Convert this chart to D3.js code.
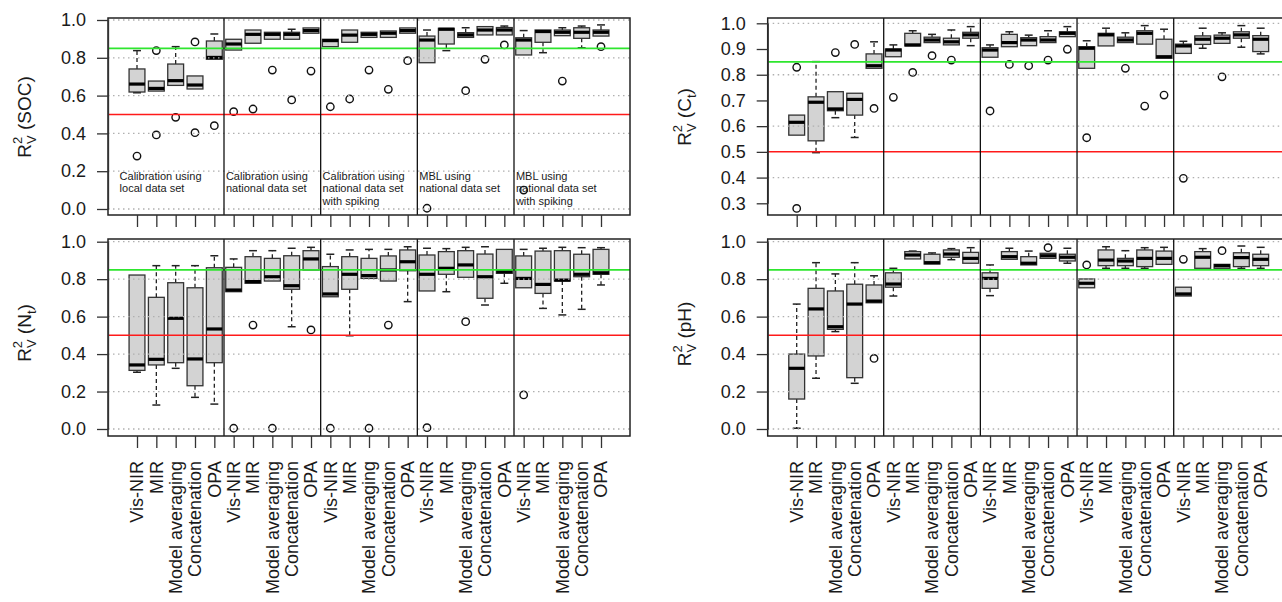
<!DOCTYPE html>
<html>
<head>
<meta charset="utf-8">
<script src="https://cdn.jsdelivr.net/npm/d3@7/dist/d3.min.js"></script>
<style>
body{margin:0;background:#fff;}
svg text{font-family:"Liberation Sans",Arial,sans-serif;fill:#1a1a1a;}
</style>
</head>
<body>
<script>
const width=1282;
const height=602;

// categories
const methods=['Vis-NIR','MIR','Model averaging','Concatenation','OPA'];
const groupNotes=[
  ['Calibration using','local data set'],
  ['Calibration using','national data set'],
  ['Calibration using','national data set','with spiking'],
  ['MBL using','national data set'],
  ['MBL using','national data set','with spiking']
];
const leftTicks=[0,0.2,0.4,0.6,0.8,1.0];
const ctTicks=[0.3,0.4,0.5,0.6,0.7,0.8,0.9,1.0];
const refLines=[0.5,0.85];

// box stats per box: [lower whisker, Q1, median, Q3, upper whisker]
const socBoxes=[
  [0.615,0.619,0.661,0.741,0.838],[0.624,0.624,0.638,0.677,0.677],[0.654,0.654,0.679,0.767,0.859],[0.635,0.635,0.656,0.704,0.704],[0.792,0.792,0.802,0.889,0.926],
  [0.841,0.841,0.873,0.898,0.898],[0.877,0.877,0.924,0.947,0.947],[0.898,0.898,0.924,0.935,0.935],[0.898,0.898,0.924,0.935,0.951],[0.930,0.930,0.944,0.958,0.958],
  [0.859,0.859,0.891,0.898,0.898],[0.882,0.882,0.920,0.947,0.947],[0.908,0.908,0.924,0.935,0.935],[0.908,0.908,0.930,0.942,0.942],[0.930,0.930,0.944,0.958,0.958],
  [0.774,0.774,0.894,0.915,0.947],[0.838,0.873,0.951,0.956,0.956],[0.908,0.908,0.921,0.933,0.959],[0.921,0.921,0.947,0.965,0.965],[0.921,0.921,0.947,0.960,0.968],
  [0.815,0.815,0.894,0.906,0.944],[0.827,0.882,0.939,0.947,0.947],[0.917,0.917,0.935,0.947,0.959],[0.853,0.903,0.935,0.959,0.968],[0.915,0.915,0.935,0.947,0.974]
];
const socOutliers=[
  [0.28],[0.838,0.392],[0.485],[0.884,0.404],[0.441],
  [0.515],[0.529],[0.735],[0.577],[0.73],
  [0.541],[0.582],[0.735],[0.633],[0.785],
  [0.004],[],[0.626],[0.792],[0.868],
  [0.1],[],[0.677],[],[0.859]
];

const ctBoxes=[
  [0.565,0.565,0.615,0.643,0.643],[0.497,0.543,0.693,0.714,0.851],[0.633,0.660,0.667,0.734,0.734],[0.556,0.643,0.704,0.728,0.728],[0.825,0.825,0.835,0.881,0.928],
  [0.870,0.870,0.896,0.900,0.916],[0.912,0.912,0.916,0.961,0.971],[0.925,0.925,0.935,0.946,0.957],[0.916,0.916,0.928,0.942,0.974],[0.913,0.942,0.955,0.965,0.987],
  [0.868,0.868,0.896,0.905,0.916],[0.909,0.909,0.925,0.957,0.967],[0.913,0.913,0.935,0.944,0.954],[0.925,0.925,0.935,0.948,0.971],[0.948,0.948,0.961,0.967,0.987],
  [0.825,0.825,0.903,0.909,0.932],[0.912,0.912,0.955,0.961,0.981],[0.925,0.925,0.935,0.946,0.963],[0.919,0.919,0.961,0.971,0.991],[0.864,0.864,0.870,0.938,0.977],
  [0.883,0.883,0.912,0.919,0.930],[0.903,0.918,0.938,0.951,0.981],[0.922,0.922,0.942,0.954,0.963],[0.907,0.942,0.955,0.967,0.991],[0.881,0.890,0.938,0.952,0.981]
];
const ctOutliers=[
  [0.829,0.28],[],[0.886],[0.918],[0.669],
  [0.712],[0.809],[0.874],[0.857],[],
  [0.659],[0.84],[0.835],[0.857],[0.899],
  [0.555],[],[0.825],[0.678],[0.721],
  [0.397],[],[0.792],[],[]
];

const ntBoxes=[
  [0.303,0.313,0.342,0.822,0.822],[0.128,0.342,0.372,0.703,0.872],[0.324,0.354,0.591,0.781,0.872],[0.169,0.231,0.374,0.754,0.872],[0.133,0.354,0.534,0.861,0.925],
  [0.733,0.733,0.742,0.863,0.908],[0.778,0.778,0.787,0.920,0.952],[0.790,0.790,0.813,0.911,0.952],[0.546,0.746,0.765,0.925,0.965],[0.849,0.849,0.908,0.952,0.970],
  [0.706,0.706,0.721,0.867,0.933],[0.498,0.746,0.826,0.920,0.956],[0.804,0.804,0.819,0.911,0.959],[0.790,0.790,0.849,0.924,0.959],[0.680,0.845,0.893,0.956,0.973],
  [0.737,0.737,0.826,0.929,0.965],[0.733,0.826,0.858,0.947,0.963],[0.810,0.810,0.876,0.952,0.970],[0.662,0.698,0.813,0.934,0.973],[0.778,0.831,0.840,0.959,0.959],
  [0.754,0.754,0.804,0.924,0.959],[0.644,0.724,0.772,0.950,0.965],[0.609,0.790,0.795,0.952,0.970],[0.639,0.813,0.826,0.933,0.968],[0.769,0.826,0.834,0.959,0.968]
];
const ntOutliers=[
  [],[],[],[],[],
  [0.004],[0.555],[0.004],[],[0.529],
  [0.004],[],[0.004],[0.555],[],
  [0.007],[],[0.573],[],[],
  [0.182],[],[],[],[]
];

const phBoxes=[
  [0.004,0.160,0.324,0.400,0.667],[0.271,0.390,0.641,0.751,0.888],[0.520,0.532,0.546,0.737,0.828],[0.244,0.274,0.667,0.773,0.888],[0.674,0.674,0.683,0.769,0.818],
  [0.710,0.757,0.774,0.834,0.858],[0.908,0.908,0.929,0.947,0.950],[0.881,0.881,0.888,0.933,0.940],[0.904,0.917,0.934,0.956,0.963],[0.885,0.885,0.911,0.943,0.968],
  [0.712,0.751,0.804,0.834,0.876],[0.906,0.906,0.920,0.947,0.965],[0.876,0.876,0.885,0.920,0.950],[0.911,0.911,0.925,0.938,0.938],[0.885,0.897,0.917,0.933,0.965],
  [0.754,0.754,0.778,0.801,0.801],[0.858,0.872,0.902,0.956,0.973],[0.858,0.872,0.897,0.911,0.952],[0.858,0.867,0.911,0.956,0.968],[0.879,0.879,0.911,0.950,0.970],
  [0.710,0.710,0.721,0.757,0.757],[0.858,0.858,0.917,0.947,0.963],[0.858,0.858,0.872,0.879,0.879],[0.858,0.867,0.915,0.941,0.977],[0.858,0.872,0.906,0.933,0.970]
];
const phOutliers=[
  [],[],[],[],[0.377],
  [],[],[],[],[],
  [],[],[],[0.968],[],
  [0.876],[],[],[],[],
  [0.906],[],[0.952],[],[]
];

const panels=[
  {left:108,top:18,bottom:215,domain:[0,1],range:[209,20],ticks:leftTicks,boxes:socBoxes,out:socOutliers,
   name:'SOC',sub:'',titleX:31,titleY:117,notes:true,labels:false},
  {left:767.7,top:18,bottom:215,domain:[0.3,1],range:[203.3,23.3],ticks:ctTicks,boxes:ctBoxes,out:ctOutliers,
   name:'C',sub:'t',titleX:691,titleY:117,notes:false,labels:false},
  {left:108,top:239,bottom:436,domain:[0,1],range:[429,241.7],ticks:leftTicks,boxes:ntBoxes,out:ntOutliers,
   name:'N',sub:'t',titleX:31,titleY:333,notes:false,labels:true},
  {left:767.7,top:239,bottom:436,domain:[0,1],range:[429,241.7],ticks:leftTicks,boxes:phBoxes,out:phOutliers,
   name:'pH',sub:'',titleX:691,titleY:334,notes:false,labels:true}
];

const svg=d3.select('body').append('svg')
  .attr('width',width)
  .attr('height',height);

const boxWex=0.82;

panels.forEach(p=>{
  const x=d3.scaleLinear().domain([-0.5,26.5]).range([p.left,p.left+522]);
  const y=d3.scaleLinear().domain(p.domain).range(p.range);
  const g=svg.append('g');
  const halfW=(x(boxWex)-x(0))/2;
  const capW=halfW/2;

  // boxes
  p.boxes.forEach((b,i)=>{
    const cx=x(i+1);
    const [lo,q1,med,q3,hi]=b;
    if(hi>q3){
      g.append('line').attr('x1',cx).attr('x2',cx).attr('y1',y(q3)).attr('y2',y(hi))
        .attr('stroke','#222').attr('stroke-width',1.3).attr('stroke-dasharray','4,3');
      g.append('line').attr('x1',cx-capW).attr('x2',cx+capW).attr('y1',y(hi)).attr('y2',y(hi))
        .attr('stroke','#222').attr('stroke-width',1.5);
    }
    if(lo<q1){
      g.append('line').attr('x1',cx).attr('x2',cx).attr('y1',y(q1)).attr('y2',y(lo))
        .attr('stroke','#222').attr('stroke-width',1.3).attr('stroke-dasharray','4,3');
      g.append('line').attr('x1',cx-capW).attr('x2',cx+capW).attr('y1',y(lo)).attr('y2',y(lo))
        .attr('stroke','#222').attr('stroke-width',1.5);
    }
    g.append('rect').attr('x',cx-halfW).attr('width',halfW*2)
      .attr('y',y(q3)).attr('height',Math.max(y(q1)-y(q3),1))
      .attr('fill','#d3d3d3').attr('stroke','#333').attr('stroke-width',1.3);
    g.append('line').attr('x1',cx-halfW).attr('x2',cx+halfW).attr('y1',y(med)).attr('y2',y(med))
      .attr('stroke','#000').attr('stroke-width',3.2);
    p.out[i].forEach(o=>{
      g.append('circle').attr('cx',cx).attr('cy',y(o)).attr('r',3.7)
        .attr('fill','none').attr('stroke','#111').attr('stroke-width',1.4);
    });
  });

  // dotted grid on top of boxes
  p.ticks.filter(t=>Math.round(t*10)%2===0).forEach(t=>{
    g.append('line').attr('x1',p.left).attr('x2',p.left+522).attr('y1',y(t)).attr('y2',y(t))
      .attr('stroke','#b0b0b0').attr('stroke-width',1.3).attr('stroke-dasharray','1.5,3.5');
  });
  // reference lines
  g.append('line').attr('x1',p.left).attr('x2',p.left+522).attr('y1',y(refLines[0])).attr('y2',y(refLines[0]))
    .attr('stroke','#ff1a1a').attr('stroke-width',1.5);
  g.append('line').attr('x1',p.left).attr('x2',p.left+522).attr('y1',y(refLines[1])).attr('y2',y(refLines[1]))
    .attr('stroke','#2ee62e').attr('stroke-width',1.8);

  // group separators
  [5.5,10.5,15.5,20.5].forEach(s=>{
    g.append('line').attr('x1',x(s)).attr('x2',x(s)).attr('y1',p.top).attr('y2',p.bottom)
      .attr('stroke','#111').attr('stroke-width',1.3);
  });

  g.append('rect').attr('x',p.left).attr('y',p.top).attr('width',522).attr('height',p.bottom-p.top)
    .attr('fill','none').attr('stroke','#222').attr('stroke-width',1.5);

  // y axis
  const yAxis=d3.axisLeft(y).tickValues(p.ticks).tickFormat(d3.format('.1f')).tickSize(11).tickPadding(11).tickSizeOuter(0);
  const ya=svg.append('g').attr('transform',`translate(${p.left},0)`).call(yAxis);
  ya.select('.domain').attr('stroke','#333').attr('stroke-width',1.3);
  ya.selectAll('.tick line').attr('stroke','#333').attr('stroke-width',1.3);
  ya.selectAll('.tick text').style('font-size','18px').attr('fill','#1a1a1a');

  // x axis ticks
  const xAxis=d3.axisBottom(x).tickValues(d3.range(1,26)).tickFormat('').tickSize(12);
  const xa=svg.append('g').attr('transform',`translate(0,${p.bottom})`).call(xAxis);
  xa.select('.domain').remove();
  xa.selectAll('.tick line').attr('stroke','#333').attr('stroke-width',1.3);

  if(p.labels){
    svg.append('g').selectAll('text').data(d3.range(25)).enter().append('text')
      .attr('transform',d=>`translate(${x(d+1)},461) rotate(-90)`)
      .attr('text-anchor','end').attr('dy','0.35em')
      .style('font-size','18px')
      .text(d=>methods[d%5]);
  }

  // group captions, one wrapped text per group
  if(p.notes){
    groupNotes.forEach((lines,gi)=>{
      const nx=x(gi===0?0.1:gi*5+0.6);
      const nt=svg.append('text').attr('x',nx).attr('y',179.5).style('font-size','11px');
      lines.forEach((ln,li)=>{
        nt.append('tspan').attr('x',nx).attr('dy',li===0?0:12.8).text(ln);
      });
    });
  }

  // y title  R^2_V (name_sub)
  const t=svg.append('text').attr('transform',`translate(${p.titleX},${p.titleY}) rotate(-90)`)
    .attr('text-anchor','middle').style('font-size','19px');
  t.append('tspan').text('R');
  t.append('tspan').text('2').attr('dy',-9).style('font-size','13px');
  t.append('tspan').text('V').attr('dx',-7.2).attr('dy',14).style('font-size','13px');
  t.append('tspan').text(' ('+p.name).attr('dy',-5);
  if(p.sub){
    t.append('tspan').text(p.sub).attr('dy',5).style('font-size','13px');
    t.append('tspan').text(')').attr('dy',-5);
  } else {
    t.append('tspan').text(')');
  }
});
</script>
</body>
</html>
